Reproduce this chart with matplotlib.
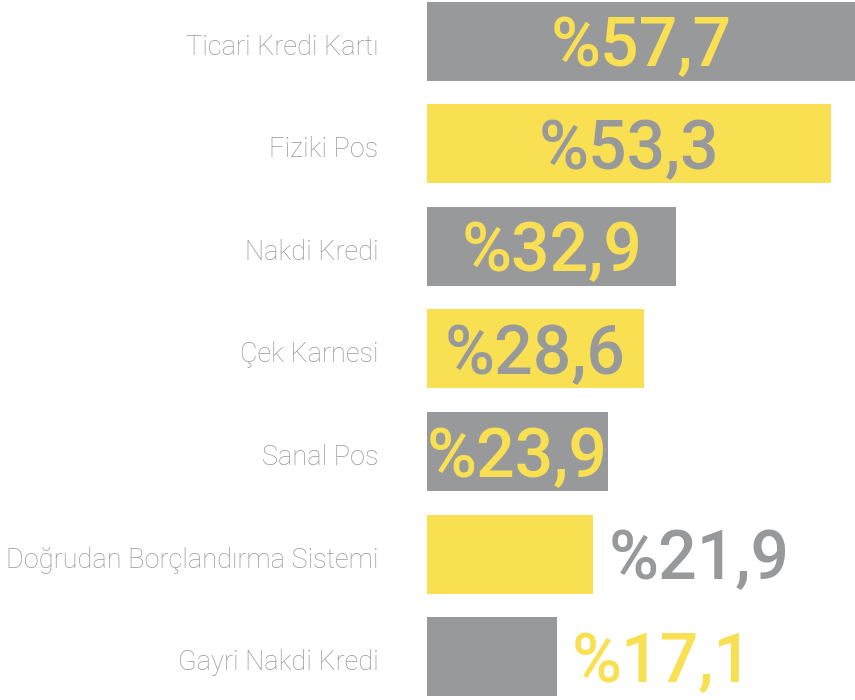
import matplotlib.pyplot as plt
from matplotlib.transforms import ScaledTranslation

categories = ["Ticari Kredi Kartı", "Fiziki Pos", "Nakdi Kredi", "Çek Karnesi",
              "Sanal Pos", "Doğrudan Borçlandırma Sistemi", "Gayri Nakdi Kredi"]
values = [57.7, 53.3, 32.9, 28.6, 23.9, 21.9, 17.1]
labels = ["%57,7", "%53,3", "%32,9", "%28,6", "%23,9", "%21,9", "%17,1"]

GRAY = "#98999b"
YELLOW = "#f9e053"
LABEL_GRAY = "#979797"

bar_colors = [GRAY if i % 2 == 0 else YELLOW for i in range(len(values))]
text_colors = [YELLOW if c == GRAY else GRAY for c in bar_colors]

fig = plt.figure(figsize=(8.55, 7.0), dpi=100)
ax = fig.add_axes([427 / 855, 0, 1 - 427 / 855, 1])

pos = list(range(len(values)))
ax.barh(pos, values, height=0.77, color=bar_colors)
ax.set_xlim(0, 56.5)
ax.set_ylim(6.42, -0.40)

for i, (v, lab) in enumerate(zip(values, labels)):
    if v > 23:
        x, ha = min(v, 56.5) / 2, "center"
        xoff = 0
    else:
        x, ha = v, "left"
        xoff = 11
    ax.annotate(lab, (x, i), xytext=(xoff, -18), textcoords="offset points",
                ha=ha, va="baseline", fontsize=49, family="Roboto",
                weight="medium", color=text_colors[i])

ax.set_yticks(pos)
ax.set_yticklabels(categories, family="Roboto", weight="light",
                   fontsize=19.5, color=LABEL_GRAY)
ax.tick_params(axis="y", length=0, pad=35)
# labels sit a few px lower than bar centres in the original
shift = ScaledTranslation(0, -3 / 100, fig.dpi_scale_trans)
for t in ax.get_yticklabels():
    t.set_transform(t.get_transform() + shift)
ax.set_xticks([])
for s in ax.spines.values():
    s.set_visible(False)

fig.savefig("out.png", dpi=100)
